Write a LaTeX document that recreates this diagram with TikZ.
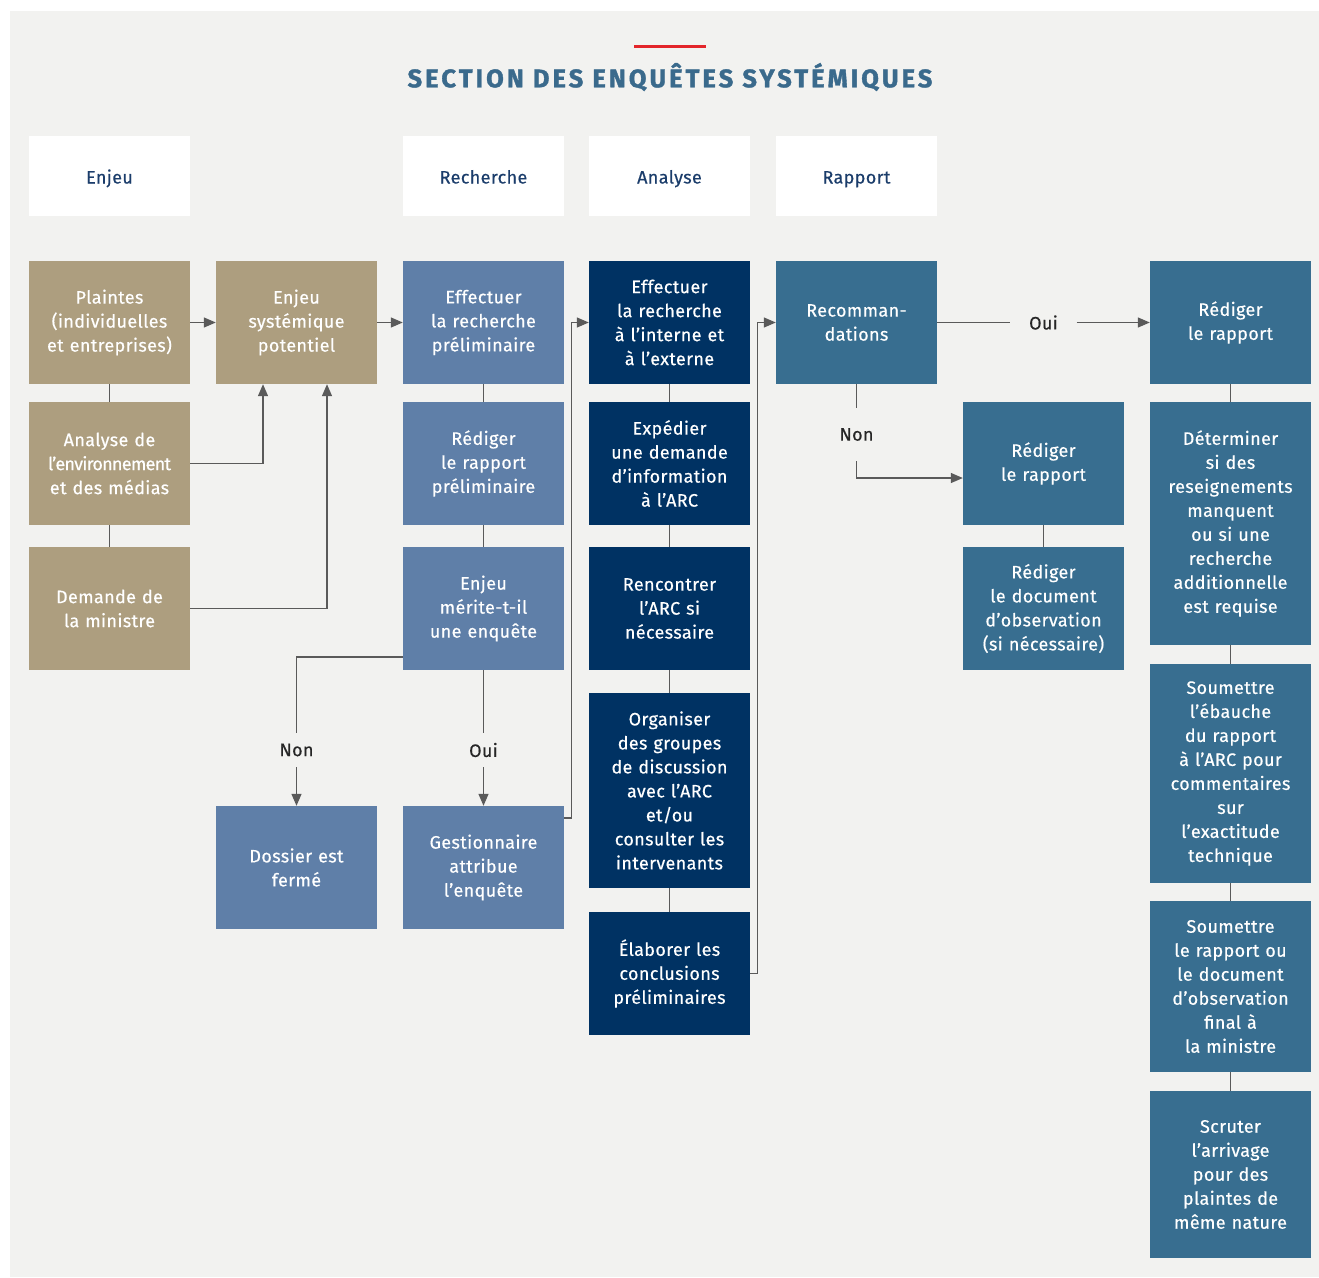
\documentclass[tikz,border=0pt]{standalone}
\usepackage{fontspec}
\setmainfont{Fira Sans}[LetterSpace=2, FakeBold=0.4]
\newfontfamily\titlefont[LetterSpace=12, BoldFeatures={FakeBold=1.4}]{Fira Sans}
\usetikzlibrary{arrows.meta,positioning}
\definecolor{bg}{HTML}{F2F2F0}
\definecolor{tan}{HTML}{AD9E7F}
\definecolor{lblue}{HTML}{5F7FA8}
\definecolor{navy}{HTML}{003263}
\definecolor{teal}{HTML}{386E90}
\definecolor{titlec}{HTML}{3A6A8C}
\definecolor{redl}{HTML}{E3262B}
\definecolor{hdr}{HTML}{1B3D6B}
\definecolor{lnc}{HTML}{5A5A5A}
\tikzset{
  box/.style={rectangle, inner sep=0pt, minimum width=161pt, minimum height=123pt, text width=158pt, align=center, text=white, font=\fontsize{18}{24}\selectfont},
  tanbox/.style={box, fill=tan},
  lbbox/.style={box, fill=lblue},
  nvbox/.style={box, fill=navy},
  tlbox/.style={box, fill=teal},
  hdrbox/.style={box, fill=white, minimum height=80pt, text=hdr, text height=19pt, text depth=4pt},
  lbl/.style={inner sep=0pt, minimum height=34pt, minimum width=20pt, text=black!85, font=\fontsize{18}{24}\selectfont},
  ln/.style={draw=lnc, line width=1.3pt},
  arr/.style={ln, -{Triangle[length=12pt, width=10pt]}}
}
\begin{document}
\begin{tikzpicture}[x=1pt,y=-1pt]
\useasboundingbox (0,0) rectangle (1319,1277);
\fill[white] (0,0) rectangle (1319,1277);
\fill[bg] (10,11) rectangle (1319,1277);
% title
\fill[redl] (634,44.5) rectangle (706,47.5);
\node[text=titlec, font=\titlefont\bfseries\fontsize{25.5}{28}\selectfont, inner sep=0pt] (title) at (670,77) {SECTION DES ENQUÊTES SYSTÉMIQUES};
% headers
\node[hdrbox] (h1) at (109.5,176) {Enjeu};
\node[hdrbox] (h3) at (483.5,176) {Recherche};
\node[hdrbox] (h4) at (669.5,176) {Analyse};
\node[hdrbox] (h5) at (856.5,176) {Rapport};
% column 1
\node[tanbox] (plaintes) at (109.5,322.5) {Plaintes\\(individuelles\\et entreprises)};
\node[tanbox] (analyse) at (109.5,463.5) {Analyse de\\{\addfontfeatures{LetterSpace=-4}l’environnement}\\et des médias};
\node[tanbox] (demande) at (109.5,608.5) {Demande de\\la ministre};
% column 2
\node[tanbox] (enjeu) at (296.5,322.5) {Enjeu\\systémique\\potentiel};
\node[lbbox] (dossier) at (296.5,867.5) {Dossier est\\fermé};
% column 3
\node[lbbox] (effprel) at (483.5,322.5) {Effectuer\\la recherche\\préliminaire};
\node[lbbox] (redprel) at (483.5,463.5) {Rédiger\\le rapport\\préliminaire};
\node[lbbox] (merite) at (483.5,608.5) {Enjeu\\mérite-t-il\\une enquête};
\node[lbbox] (gest) at (483.5,867.5) {Gestionnaire\\attribue\\l’enquête};
% column 4
\node[nvbox] (eff) at (669.5,322.5) {Effectuer\\la recherche\\à l’interne et\\à l’externe};
\node[nvbox] (exp) at (669.5,463.5) {Expédier\\une demande\\d’information\\à l’ARC};
\node[nvbox] (renc) at (669.5,608.5) {Rencontrer\\l’ARC si\\nécessaire};
\node[nvbox, minimum height=195pt] (org) at (669.5,790.5) {Organiser\\des groupes\\de discussion\\avec l’ARC\\et/ou\\consulter les\\intervenants};
\node[nvbox] (elab) at (669.5,973.5) {Élaborer les\\conclusions\\préliminaires};
% column 5
\node[tlbox] (reco) at (856.5,322.5) {Recomman-\\dations};
% column 6
\node[tlbox] (redr) at (1043.5,463.5) {Rédiger\\le rapport};
\node[tlbox] (redd) at (1043.5,608.5) {Rédiger\\le document\\d’observation\\(si nécessaire)};
% column 7
\node[tlbox] (r1) at (1230.5,322.5) {Rédiger\\le rapport};
\node[tlbox, minimum height=243pt] (det) at (1230.5,523.5) {Déterminer\\si des\\reseignements\\manquent\\ou si une\\recherche\\additionnelle\\est requise};
\node[tlbox, minimum height=219pt] (soum1) at (1230.5,773.5) {Soumettre\\l’ébauche\\du rapport\\à l’ARC pour\\commentaires\\sur\\l’exactitude\\technique};
\node[tlbox, minimum height=171pt] (soum2) at (1230.5,986.5) {Soumettre\\le rapport ou\\le document\\d’observation\\final à\\la ministre};
\node[tlbox, minimum height=167pt] (scr) at (1230.5,1174.5) {Scruter\\l’arrivage\\pour des\\plaintes de\\même nature};
% labels
\node[lbl] (non1) at (296.5,750) {Non};
\node[lbl] (oui1) at (483.5,750) {Oui};
\node[lbl, minimum width=66pt] (oui2) at (1043.5,322.5) {Oui};
\node[lbl, minimum height=53pt] (non2) at (856.5,434.5) {Non};
% connectors column 1
\draw[ln] (plaintes) -- (analyse);
\draw[ln] (analyse) -- (demande);
\draw[arr] (plaintes) -- (enjeu);
\draw[arr] (analyse.east) -| ([xshift=-33.5pt]enjeu.south);
\draw[arr] (demande.east) -| ([xshift=30.5pt]enjeu.south);
\draw[arr] (enjeu) -- (effprel);
% column 3
\draw[ln] (effprel) -- (redprel);
\draw[ln] (redprel) -- (merite);
\draw[ln] ([yshift=-48.5pt]merite.west) -| (non1.north);
\draw[arr] (non1.south) -- (dossier.north);
\draw[ln] (merite) -- (oui1);
\draw[arr] (oui1) -- (gest);
\draw[arr] ([yshift=49.5pt]gest.east) -- ++(7,0) |- (eff.west);
% column 4
\draw[ln] (eff) -- (exp);
\draw[ln] (exp) -- (renc);
\draw[ln] (renc) -- (org);
\draw[ln] (org) -- (elab);
\draw[arr] (elab.east) -- ++(7,0) |- (reco.west);
% column 5
\draw[ln] (reco) -- (oui2);
\draw[arr] (oui2) -- (r1);
\draw[ln] (reco) -- (non2);
\draw[arr] (non2.south) |- ([yshift=-14.5pt]redr.west);
% column 6
\draw[ln] (redr) -- (redd);
% column 7
\draw[ln] (r1) -- (det);
\draw[ln] (det) -- (soum1);
\draw[ln] (soum1) -- (soum2);
\draw[ln] (soum2) -- (scr);
\end{tikzpicture}
\end{document}
